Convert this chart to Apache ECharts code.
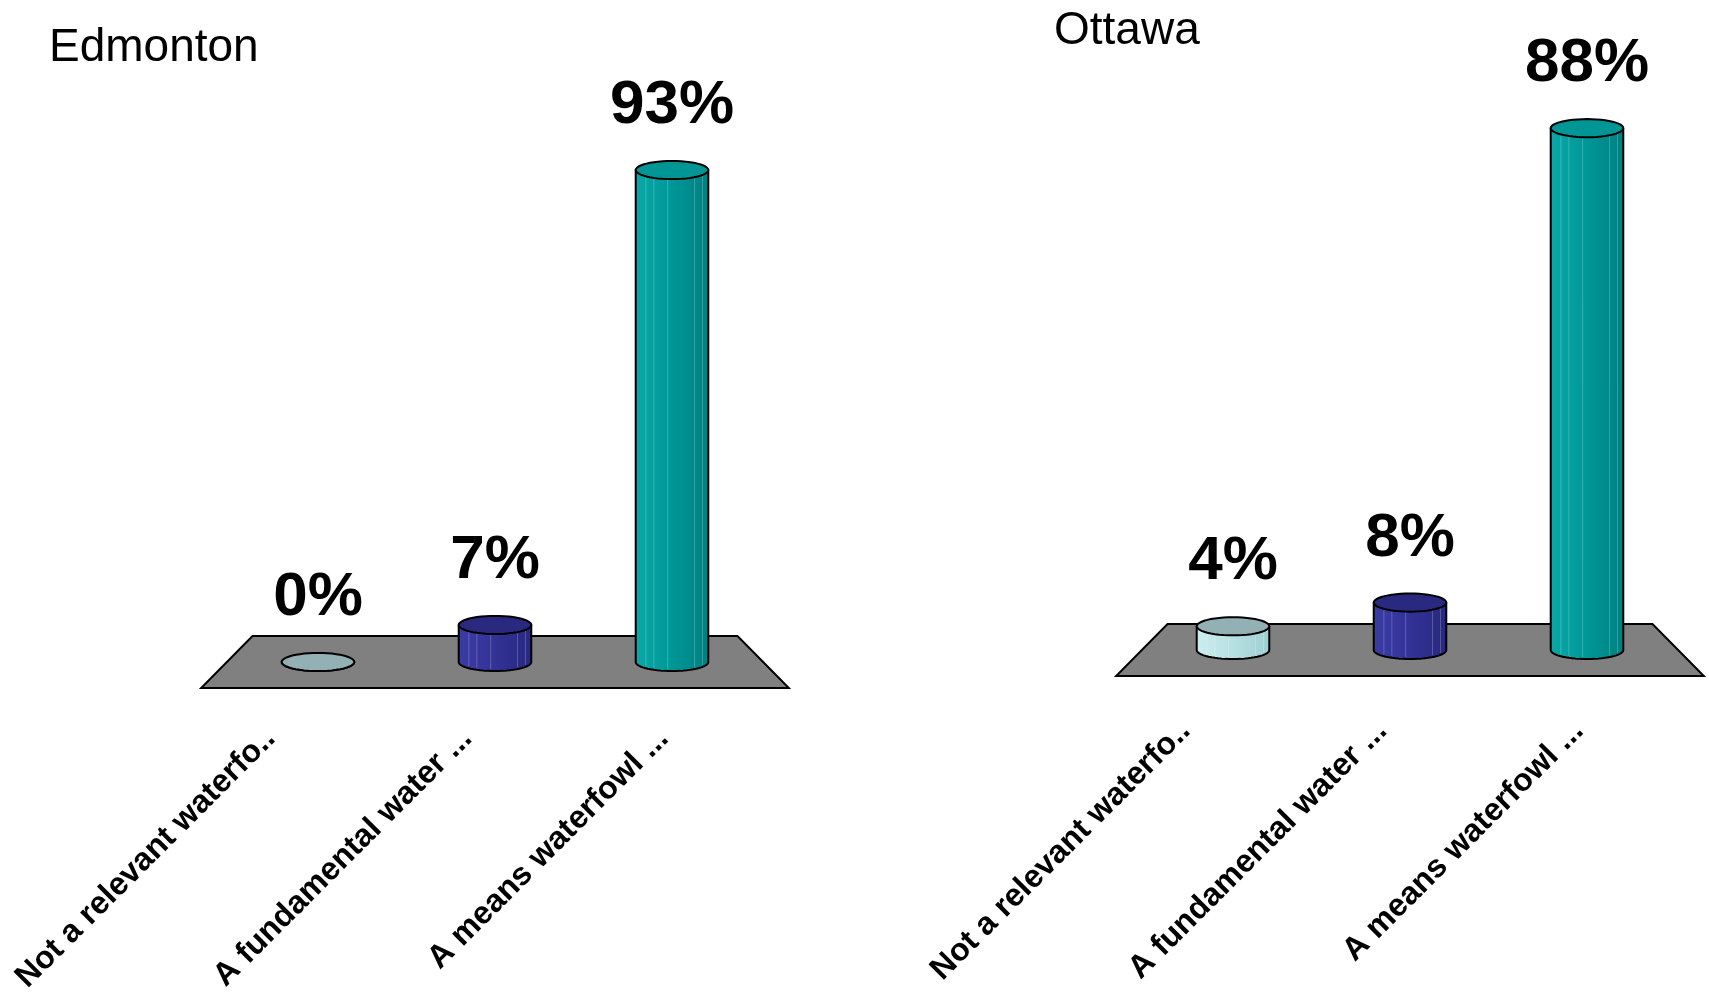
<!DOCTYPE html>
<html>
<head>
<meta charset="utf-8">
<script src="https://cdn.jsdelivr.net/npm/echarts@6/dist/echarts.min.js"></script>
<style>
  html, body { margin: 0; padding: 0; background: #ffffff; }
  #chart { width: 1709px; height: 996px; }
</style>
</head>
<body>
<div id="chart"></div>
<script>
// ---------------- data ----------------
const categories = ['Not a relevant waterfo..', 'A fundamental water ...', 'A means waterfowl ...'];
const edmontonValues = [0, 7, 93];
const ottawaValues = [4, 8, 88];
const panelTitles = ['Edmonton', 'Ottawa'];

// ---------------- styles ----------------
const FONT = '"Liberation Sans", Arial, Helvetica, sans-serif';
const sideStops = [
  ['#cdeef0', '#b9e1e3', '#9fcfd2'],
  ['#3c3ca6', '#333399', '#28287f'],
  ['#0aa8a8', '#009999', '#007f80']
];
const topColors = ['#93b1b4', '#29297f', '#009696'];
const streakFractions = [-0.72, -0.5, -0.12, 0.62, 0.84];

function ellipsePts(cx, cy, rx, ry, n) {
  const p = [];
  for (let i = 0; i < n; i++) {
    const a = 2 * Math.PI * i / n;
    p.push([cx + rx * Math.cos(a), cy + ry * Math.sin(a)]);
  }
  return p;
}

function renderCylinder(params, api) {
  const idx = params.dataIndex;
  const cat = api.value(0);
  const val = api.value(1);
  const top = api.coord([cat, val]);
  const base = api.coord([cat, 0]);
  const bw = api.size([1, 0])[0];
  const rx = bw * 0.205;
  const ry = rx * 0.25;
  const cx = top[0];
  const body = [];
  const n = 30;
  for (let i = 0; i <= n; i++) {
    const a = Math.PI * i / n;
    body.push([cx - rx * Math.cos(a), base[1] + ry * Math.sin(a)]);
  }
  body.push([cx + rx, top[1]]);
  body.push([cx - rx, top[1]]);
  const s = sideStops[idx];
  const children = [
    {
      type: 'polygon',
      shape: { points: body },
      style: {
        fill: {
          type: 'linear', x: 0, y: 0, x2: 1, y2: 0,
          colorStops: [
            { offset: 0, color: s[0] },
            { offset: 0.45, color: s[1] },
            { offset: 1, color: s[2] }
          ]
        },
        stroke: '#000', lineWidth: 2, lineJoin: 'round'
      }
    }
  ];
  if (base[1] - top[1] > 4) {
    streakFractions.forEach(function (f) {
      const x = cx + f * rx;
      children.push({
        type: 'line',
        shape: { x1: x, y1: top[1], x2: x, y2: base[1] + ry * Math.sqrt(1 - f * f) - 2 },
        style: { stroke: 'rgba(255,255,255,0.22)', lineWidth: 1 }
      });
    });
  }
  children.push({
    type: 'polygon',
    shape: { points: ellipsePts(cx, top[1], rx, ry, 48) },
    style: { fill: topColors[idx], stroke: '#000', lineWidth: 2 }
  });
  children.push({
    type: 'text',
    style: {
      text: val + '%',
      x: cx,
      y: top[1] - ry - 55,
      align: 'center',
      verticalAlign: 'middle',
      font: 'bold 62px ' + FONT,
      fill: '#000'
    }
  });
  return { type: 'group', children: children };
}

function renderFloor(params, api) {
  const cs = params.coordSys;
  const bw = api.size([1, 0])[0];
  const baseY = api.coord([0, 0])[1];
  const half = bw * 0.147;
  const backIn = bw * 0.13;
  const frontOut = bw * 0.16;
  const x0 = cs.x, x1 = cs.x + cs.width;
  return {
    type: 'polygon',
    shape: {
      points: [
        [x0 + backIn, baseY - half],
        [x1 - backIn, baseY - half],
        [x1 + frontOut, baseY + half],
        [x0 - frontOut, baseY + half]
      ]
    },
    style: { fill: '#808080', stroke: '#000', lineWidth: 2 }
  };
}

const grids = [
  { left: 229.5, right: 1709 - 760.5, top: 133, bottom: 996 - 662 },   // Edmonton bars
  { left: 1144.5, right: 1709 - 1675.5, top: 57, bottom: 996 - 650 },  // Ottawa bars
  { left: 172, right: 1709 - 762, top: 600, bottom: 996 - 689 },       // Edmonton labels
  { left: 1087, right: 1709 - 1677, top: 600, bottom: 996 - 676 }      // Ottawa labels
];

function barAxis(i) {
  return { type: 'category', gridIndex: i, data: categories, show: false };
}
function labelAxis(i) {
  return {
    type: 'category', gridIndex: i, data: categories,
    axisLine: { show: false }, axisTick: { show: false },
    axisLabel: {
      interval: 0, rotate: 45, margin: 50,
      fontSize: 32, fontWeight: 'bold', color: '#000', fontFamily: FONT
    }
  };
}
function valAxis(i) {
  return { type: 'value', gridIndex: i, min: 0, max: 100, show: false, splitLine: { show: false } };
}

const option = {
  backgroundColor: '#ffffff',
  animation: false,
  title: [
    { text: panelTitles[0], left: 44, top: 20, textStyle: { fontSize: 46, fontWeight: 'normal', color: '#000', fontFamily: FONT } },
    { text: panelTitles[1], left: 1049, top: 3, textStyle: { fontSize: 46, fontWeight: 'normal', color: '#000', fontFamily: FONT } }
  ],
  grid: grids,
  xAxis: [barAxis(0), barAxis(1), labelAxis(2), labelAxis(3)],
  yAxis: [valAxis(0), valAxis(1), valAxis(2), valAxis(3)],
  series: [
    { type: 'custom', xAxisIndex: 0, yAxisIndex: 0, z: 1, renderItem: renderFloor, data: [[0, 0]], silent: true },
    { type: 'custom', xAxisIndex: 0, yAxisIndex: 0, z: 2, renderItem: renderCylinder,
      data: edmontonValues.map((v, i) => [i, v]) },
    { type: 'custom', xAxisIndex: 1, yAxisIndex: 1, z: 1, renderItem: renderFloor, data: [[0, 0]], silent: true },
    { type: 'custom', xAxisIndex: 1, yAxisIndex: 1, z: 2, renderItem: renderCylinder,
      data: ottawaValues.map((v, i) => [i, v]) }
  ]
};

const chart = echarts.init(document.getElementById('chart'), null, { renderer: 'canvas' });
chart.setOption(option);
</script>
</body>
</html>
